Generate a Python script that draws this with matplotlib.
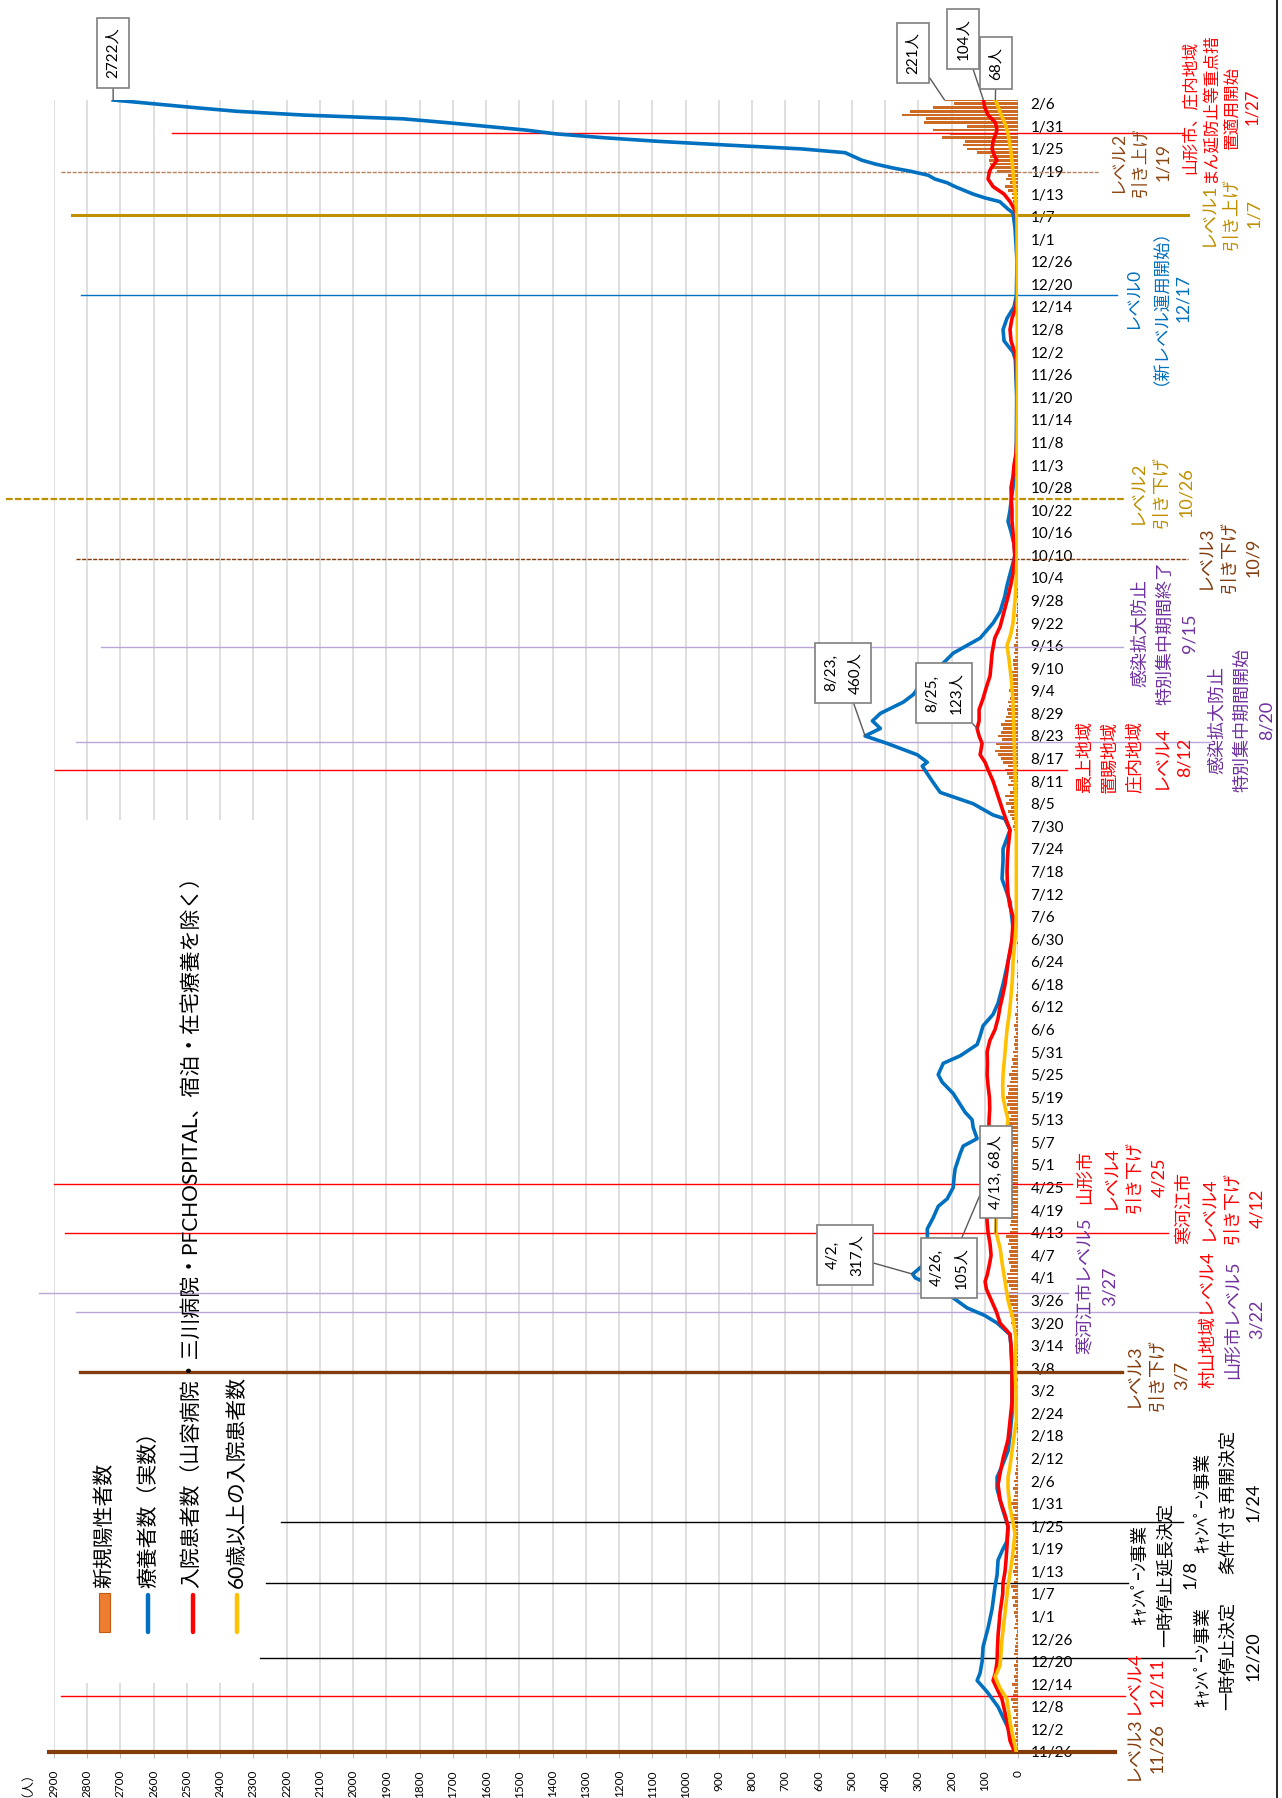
import matplotlib
matplotlib.use('Agg')
import matplotlib.pyplot as plt
from matplotlib.transforms import blended_transform_factory
from matplotlib.lines import Line2D
from matplotlib.patches import Rectangle

plt.rcParams['font.family'] = ['Lato', 'Noto Sans CJK JP', 'DejaVu Sans']

W, H = 1282, 1798

# category axis labels (every 6th day, 2020/11/26 - 2022/2/7)
date_labels = ['11/26', '12/2', '12/8', '12/14', '12/20', '12/26',
               '1/1', '1/7', '1/13', '1/19', '1/25', '1/31',
               '2/6', '2/12', '2/18', '2/24', '3/2', '3/8', '3/14', '3/20', '3/26',
               '4/1', '4/7', '4/13', '4/19', '4/25', '5/1', '5/7', '5/13', '5/19', '5/25', '5/31',
               '6/6', '6/12', '6/18', '6/24', '6/30', '7/6', '7/12', '7/18', '7/24', '7/30',
               '8/5', '8/11', '8/17', '8/23', '8/29', '9/4', '9/10', '9/16', '9/22', '9/28',
               '10/4', '10/10', '10/16', '10/22', '10/28', '11/3', '11/8', '11/14', '11/20', '11/26',
               '12/2', '12/8', '12/14', '12/20', '12/26',
               '1/1', '1/7', '1/13', '1/19', '1/25', '1/31', '2/6']

# new positive cases per day, month by month
new_cases = (
    [4, 6, 3, 8, 5] +
    [10, 7, 12, 9, 15, 6, 11, 18, 14, 20, 16, 12, 8, 17, 10, 13, 6, 9, 11, 7, 5, 12, 8, 10, 6, 9, 7, 4, 11, 8, 6] +
    [8, 12, 6, 15, 10, 18, 9, 14, 20, 11, 7, 13, 16, 8, 12, 9, 14, 6, 10, 7, 11, 5, 9, 13, 8, 12, 15, 18, 10, 14, 20] +
    [16, 12, 9, 14, 8, 11, 6, 9, 5, 7, 4, 6, 3, 5, 2, 4, 3, 1, 2, 4, 2, 1, 3, 0, 2, 1, 0, 2] +
    [1, 0, 2, 1, 3, 0, 2, 1, 4, 2, 3, 5, 4, 8, 6, 10, 12, 15, 14, 20, 18, 25, 22, 16, 28, 24, 30, 26, 21, 27, 32] +
    [29, 33, 25, 20, 27, 31, 24, 28, 22, 30, 26, 35, 23, 19, 25, 21, 28, 18, 24, 16, 22, 20, 17, 25, 19, 15, 21, 18, 14, 20] +
    [16, 12, 18, 14, 10, 17, 22, 15, 19, 24, 20, 26, 28, 22, 30, 25, 33, 29, 36, 31, 27, 34, 24, 20, 26, 18, 22, 15, 17, 12, 14] +
    [10, 13, 8, 11, 6, 9, 12, 7, 5, 8, 4, 6, 3, 5, 7, 2, 4, 3, 1, 2, 4, 1, 0, 2, 1, 0, 1, 0, 2, 1] +
    [0, 1, 0, 2, 1, 3, 0, 1, 2, 0, 1, 3, 2, 4, 1, 3, 5, 2, 4, 6, 3, 5, 8, 4, 7, 6, 10, 8, 12, 15, 11] +
    [18, 25, 30, 22, 35, 28, 38, 24, 15, 30, 20, 26, 33, 40, 30, 45, 52, 60, 68, 55, 65, 48, 60, 50, 45, 52, 40, 35, 30, 33, 28] +
    [30, 25, 22, 28, 20, 18, 24, 15, 19, 12, 16, 14, 10, 13, 8, 11, 7, 9, 5, 6, 4, 7, 3, 5, 2, 4, 3, 1, 2, 3] +
    [2, 1, 0, 2, 1, 0, 1, 3, 0, 1, 2, 0, 1, 0, 2, 1, 0, 0, 1, 0, 2, 0, 1, 0, 0, 1, 0, 2, 0, 1, 0] +
    [0, 1, 0, 0, 2, 0, 1, 0, 0, 1, 0, 0, 0, 1, 0, 2, 0, 0, 1, 0, 0, 0, 1, 0, 3, 0, 1, 0, 2, 1, 0] +
    [2, 4, 3, 5, 2, 3, 1, 2, 4, 1, 0, 2, 1, 0, 1, 0, 0, 2, 0, 1, 0, 0, 1, 0, 2, 0, 1, 0, 0, 1, 2] +
    [2, 1, 4, 3, 5, 4, 8, 10, 12, 15, 14, 18, 19, 30, 39, 24, 36, 30, 62, 84, 84, 86, 84, 124, 152, 164, 159,
     229, 204, 256, 154] +
    [284, 277, 349, 324, 257, 194, 221]
)

# readings of the three lines (day index, value)
ryoyo_day = [0, 3, 7, 12, 16, 19, 21, 24, 28, 30, 33, 38, 44, 47, 51, 54, 56, 60, 65, 70, 73, 76, 80, 84, 90,
             96, 102, 108, 111, 114, 116, 118, 121, 124, 126, 127, 129, 132, 135, 139, 142, 145, 147, 150,
             153, 155, 159, 161, 163, 166, 168, 170, 175, 178, 180, 183, 185, 188, 190, 193, 196, 199, 204,
             210, 215, 219, 226, 232, 237, 240, 245, 248, 249, 252, 255, 258, 262, 263, 265, 268, 270, 272,
             274, 276, 279, 281, 284, 288, 292, 296, 300, 303, 307, 310, 313, 318, 321, 324, 327, 330, 333,
             336, 339, 342, 348, 360, 370, 372, 375, 378, 381, 384, 387, 396, 405, 409, 410, 412, 413, 414,
             416, 417, 418, 419, 420, 421, 422, 423, 424, 425, 426, 427, 428, 429, 430, 431, 432, 433, 434,
             435, 436, 437, 438, 439]
ryoyo_val = [10, 15, 33, 60, 93, 123, 114, 108, 105, 99, 90, 78, 69, 63, 60, 45, 33, 30, 48, 63, 63, 48, 30, 24, 18,
             18, 18, 21, 25, 63, 100, 153, 200, 260, 309, 317, 290, 275, 272, 273, 255, 240, 213, 195,
             192, 189, 174, 165, 123, 135, 138, 159, 195, 228, 240, 225, 174, 123, 115, 105, 75, 60, 45,
             30, 18, 15, 24, 48, 45, 45, 24, 40, 75, 135, 234, 258, 288, 273, 303, 393, 460, 414,
             438, 414, 345, 315, 290, 240, 195, 114, 75, 54, 40, 33, 24, 9, 12, 20, 30, 24, 20,
             15, 10, 6, 5, 4, 8, 15, 42, 45, 33, 12, 5, 3, 9, 15, 30, 55, 100, 135,
             190, 213, 250, 270, 320, 380, 430, 470, 495, 520, 650, 870, 1080, 1250, 1390, 1480, 1600, 1720, 1850,
             2150, 2350, 2480, 2600, 2722]

nyuin_day = [0, 3, 8, 14, 19, 21, 24, 27, 31, 37, 42, 45, 48, 51, 55, 60, 63, 67, 71, 74, 78, 83, 88, 93,
             96, 102, 108, 111, 114, 117, 120, 123, 125, 127, 130, 132, 135, 138, 141, 144, 147, 150, 153,
             156, 159, 162, 165, 168, 171, 174, 177, 180, 183, 186, 189, 192, 195, 198, 201, 204, 207, 210,
             213, 216, 219, 222, 225, 228, 231, 234, 237, 240, 245, 250, 254, 258, 261, 263, 265, 268, 270,
             272, 274, 277, 280, 283, 286, 292, 296, 299, 304, 307, 310, 313, 316, 318, 321, 324, 327, 330,
             333, 336, 339, 342, 345, 348, 360, 370, 372, 375, 378, 381, 384, 387, 396, 405, 409, 412, 414,
             416, 418, 420, 421, 423, 424, 426, 428, 431, 433, 435, 437, 439]
nyuin_val = [10, 24, 33, 48, 75, 68, 63, 62, 60, 54, 46, 45, 39, 36, 33, 30, 39, 54, 60, 54, 45, 30, 24, 18,
             18, 18, 21, 24, 54, 65, 80, 95, 99, 92, 85, 81, 84, 90, 93, 95, 100, 105, 98,
             93, 90, 90, 88, 87, 85, 86, 90, 93, 92, 93, 85, 69, 60, 54, 46, 39, 34, 30,
             24, 18, 16, 15, 25, 30, 32, 33, 32, 30, 24, 45, 60, 75, 90, 99, 114, 108, 117,
             123, 117, 117, 105, 95, 84, 78, 70, 54, 39, 30, 22, 15, 12, 10, 12, 15, 18, 18,
             20, 21, 15, 12, 6, 4, 3, 5, 10, 21, 24, 18, 6, 3, 2, 3, 5, 24, 42,
             75, 90, 86, 80, 63, 70, 78, 75, 63, 68, 90, 100, 104]

koreisha_day = [0, 4, 8, 14, 17, 20, 23, 30, 37, 44, 51, 58, 61, 65, 70, 73, 76, 82, 88, 96, 102, 110, 115,
                120, 125, 130, 134, 138, 141, 144, 147, 150, 153, 156, 159, 162, 165, 168, 171, 174, 177,
                180, 183, 186, 189, 192, 195, 198, 201, 204, 207, 210, 213, 216, 219, 222, 234, 246, 258,
                264, 270, 276, 279, 285, 288, 291, 294, 297, 300, 303, 306, 312, 318, 339, 360, 387, 408,
                414, 420, 426, 430, 432, 434, 436, 438, 439]
koreisha_val = [5, 15, 24, 33, 54, 69, 54, 48, 39, 30, 18, 9, 15, 24, 30, 30, 24, 15, 5, 6, 9, 6, 15,
                30, 39, 48, 54, 66, 66, 65, 62, 60, 55, 50, 45, 40, 35, 30, 38, 45, 46,
                45, 42, 39, 36, 33, 28, 24, 21, 18, 16, 15, 12, 9, 6, 5, 5, 5, 8,
                10, 12, 14, 15, 20, 24, 28, 33, 22, 15, 12, 9, 5, 3, 3, 2, 2, 3,
                8, 15, 22, 30, 36, 45, 55, 63, 68]

# callouts (day index, value, text)
callout_day = [439, 439, 439, 439, 270, 272, 127, 150, 138]
callout_val = [2722, 221, 104, 68, 460, 123, 317, 105, 68]
callout_text = ['2722人', '221人', '104人', '68人', '8/23,\n460人', '8/25,\n123人',
                '4/2,\n317人', '4/26,\n105人', '4/13, 68人']
callout_box = [(113, 53), (913, 53), (963, 39), (996, 63), (843, 673), (944, 693),
               (845, 1255), (949, 1268), (996, 1172)]

# measures (day index where the vertical marker sits)
event_day = [430.2, 419.9, 408.4, 387.2, 333.0, 317.0, 293.7, 268.3, 261.0,
             151.0, 138.0, 122.0, 117.0, 101.0, 61.0, 45.0, 25.0, 15.0, 0.0]
event_color = ['#FF0000', '#B98360', '#BF9000', '#0070C0', '#BF9000', '#843C0C', '#B9A6DA', '#B9A6DA', '#FF0000',
               '#FF0000', '#FF0000', '#B9A6DA', '#B9A6DA', '#843C0C', '#000000', '#000000', '#000000', '#FF0000',
               '#843C0C']
event_style = ['-', (0, (3, 1)), '-', '-', (0, (3, 1)), (0, (3, 1)), '-', '-', '-',
               '-', '-', '-', '-', '-', '-', '-', '-', '-', '-']
event_lw = [1.0, 1.0, 2.2, 1.0, 1.6, 1.0, 1.0, 1.0, 1.0,
            1.0, 1.0, 1.0, 1.0, 2.4, 1.0, 1.0, 1.0, 1.0, 3.0]
event_span = [(172, 1183), (61, 1098), (72, 1188), (81, 1117), (6, 1125), (76, 1188), (101, 1123),
              (76, 1210), (55, 1067), (54, 1072), (65, 1168), (39, 1068), (76, 1202), (80, 1122),
              (281, 1183), (266, 1128), (260, 1195), (61, 1125), (49, 1115)]

hk = 'ｷｬﾝﾍﾟｰﾝ事業'
# (text, colour, centre x, centre y, font size, column step) in reference pixels
notes = [
    ('山形市、庄内地域\nまん延防止等重点措\n置適用開始\n1/27', '#FF0000', 1221, 107, 12, 21),
    ('レベル2\n引き上げ\n1/19', '#8B4513', 1140, 162, 12.5, 23),
    ('レベル1\n引き上げ\n1/7', '#BF9000', 1231, 214, 13, 23.5),
    ('レベル0', '#0070C0', 1132, 298, 12.5, 25),
    ('（新レベル運用開始）', '#0070C0', 1151, 298, 12.5, 25),
    ('12/17', '#0070C0', 1183, 298, 12.5, 25),
    ('レベル2\n引き下げ\n10/26', '#BF9000', 1161, 492, 13, 25),
    ('レベル3\n引き下げ\n10/9', '#843C0C', 1229, 557, 13, 24),
    ('感染拡大防止\n特別集中期間終了\n9/15', '#7030A0', 1165, 633, 13, 25),
    ('感染拡大防止\n特別集中期間開始\n8/20', '#7030A0', 1242, 720, 13, 25),
    ('最上地域\n置賜地域\n庄内地域\nレベル4\n8/12', '#FF0000', 1135, 757, 13, 25),
    ('山形市\nレベル4\n引き下げ\n4/25', '#FF0000', 1122, 1177, 13, 25),
    ('寒河江市\nレベル4\n引き下げ\n4/12', '#FF0000', 1220, 1208, 13, 24.7),
    ('村山地域レベル4', '#FF0000', 1208, 1320, 13, 25),
    ('山形市レベル5', '#7030A0', 1233, 1320, 13, 25),
    ('3/22', '#7030A0', 1257, 1319, 13, 25),
    ('寒河江市レベル5\n3/27', '#7030A0', 1097, 1286, 13, 25),
    ('レベル3\n引き下げ\n3/7', '#843C0C', 1157, 1375, 13, 25),
    (hk + '\n一時停止延長決定\n1/8', '#000000', 1165, 1575, 13, 25),
    (hk + '\n条件付き再開決定\n1/24', '#000000', 1228, 1502, 13, 25),
    (hk + '\n一時停止決定\n12/20', '#000000', 1228, 1656, 13, 25.5),
    ('レベル4\n12/11', '#FF0000', 1145, 1682, 13, 25),
    ('レベル3\n11/26', '#843C0C', 1145, 1748, 13, 25),
]

legend_labels = ['新規陽性者数', '療養者数（実数）',
                 '入院患者数（山容病院・三川病院・PFCHOSPITAL、宿泊・在宅療養を除く）',
                 '60歳以上の入院患者数']
legend_colors = ['#ED7D31', '#0070C0', '#FF0000', '#FFC000']


def fx(x):
    return x / W


def fy(y):
    return 1 - y / H


fig = plt.figure(figsize=(W / 100, H / 100), dpi=100)
ax = fig.add_axes([fx(54), fy(1752), fx(1018) - fx(54), fy(100) - fy(1752)])
ax.set_xlim(2900, 0)
ax.set_ylim(0, 439)
ax.set_axisbelow(True)
for s in ax.spines.values():
    s.set_visible(False)

ax.set_xticks(range(0, 3000, 100))
ax.set_xticklabels([str(v) for v in range(0, 3000, 100)], rotation=90, fontsize=8.5)
ax.tick_params(axis='x', length=4, color='#BFBFBF', pad=9)
ax.xaxis.grid(True, color='#D9D9D9', lw=1.2)

ax.yaxis.tick_right()
ax.set_yticks(range(0, 6 * len(date_labels), 6))
ax.set_yticklabels(date_labels, fontsize=11)
ax.tick_params(axis='y', length=0, pad=9)

# legend background (hides the grid)
ax.add_patch(Rectangle((fx(57), fy(1683)), fx(258) - fx(57), fy(820) - fy(1683),
                       transform=fig.transFigure, fc='white', ec='none', zorder=1, clip_on=False))

ax.barh(range(len(new_cases)), new_cases, height=0.7, color='#CC6A24', lw=0, zorder=2)
ax.plot(ryoyo_val, ryoyo_day, color='#0070C0', lw=2.6, zorder=4, solid_joinstyle='round')
ax.plot(nyuin_val, nyuin_day, color='#FF0000', lw=2.6, zorder=5, solid_joinstyle='round')
ax.plot(koreisha_val, koreisha_day, color='#FFC000', lw=2.6, zorder=6, solid_joinstyle='round')

trans = blended_transform_factory(fig.transFigure, ax.transData)
for d, c, ls, lw, (x0, x1) in zip(event_day, event_color, event_style, event_lw, event_span):
    ax.plot([fx(x0), fx(x1)], [d, d], transform=trans, color=c, ls=ls, lw=lw,
            clip_on=False, zorder=3)

for d, v, t, (bx, by) in zip(callout_day, callout_val, callout_text, callout_box):
    ax.annotate(t, xy=(v, d), xytext=(fx(bx), fy(by)), textcoords='figure fraction',
                rotation=90, ha='center', va='center', multialignment='center',
                fontsize=11, linespacing=1.9, annotation_clip=False, zorder=8,
                bbox=dict(boxstyle='square,pad=0.6', fc='white', ec='#7F7F7F', lw=1.2),
                arrowprops=dict(arrowstyle='-', color='#595959', lw=1, shrinkA=0, shrinkB=0))

# rotated notes: one column per text line
for t, c, x, y, size, step in notes:
    lines = t.split('\n')
    x0 = x - step * (len(lines) - 1) / 2
    for i, line in enumerate(lines):
        fig.text(fx(x0 + i * step), fy(y), line, rotation=90, ha='center', va='center',
                 color=c, fontsize=size)

# legend
for i, (lab, col) in enumerate(zip(legend_labels, legend_colors)):
    x = 104 + 44.3 * i
    if i == 0:
        fig.add_artist(Rectangle((fx(x - 5.5), fy(1632)), fx(11), fy(1593) - fy(1632),
                                 fc=col, ec='#C55A11', lw=0.8))
    else:
        fig.add_artist(Line2D([fx(x), fx(x)], [fy(1632), fy(1595)], color=col, lw=3.2,
                              solid_capstyle='round'))
    fig.text(fx(x), fy(1588), lab, rotation=90, ha='center', va='bottom', fontsize=15)

fig.text(fx(20), fy(1778), '（人）', rotation=90, ha='center', va='center', fontsize=9)

# chart border on the right
fig.add_artist(Line2D([fx(1277), fx(1277)], [0, 1], color='black', lw=1.2))

fig.savefig('out.png', dpi=100)
